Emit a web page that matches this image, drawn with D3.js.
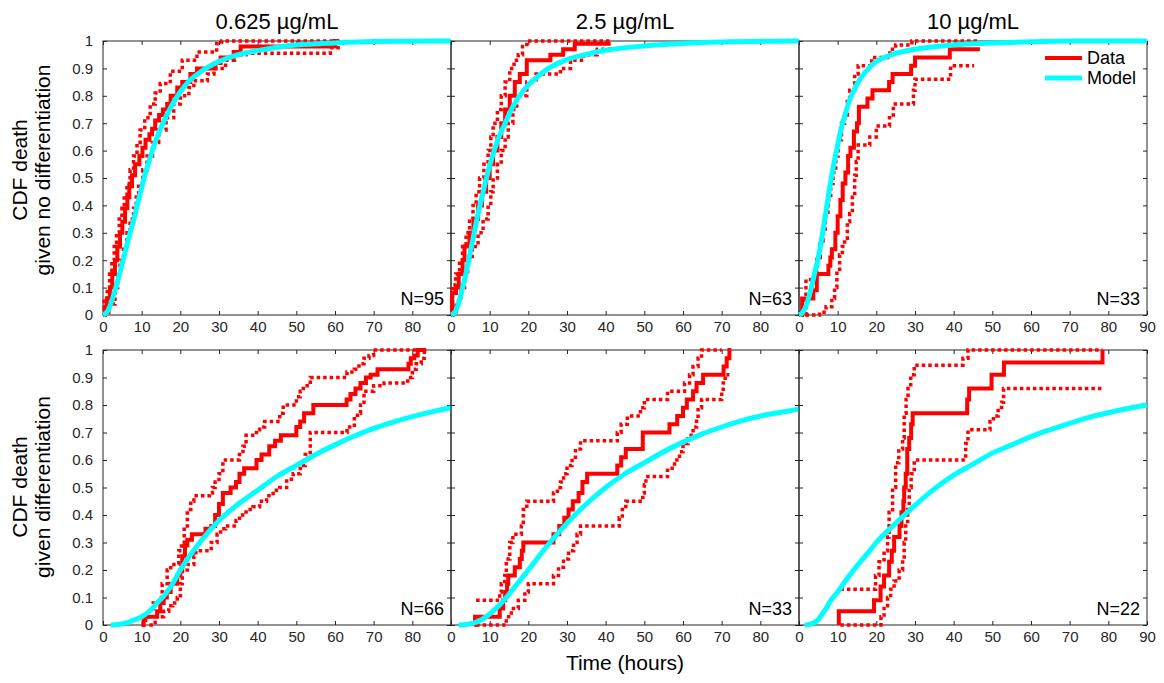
<!DOCTYPE html>
<html>
<head>
<meta charset="utf-8">
<script src="https://cdn.jsdelivr.net/npm/d3@7"></script>
<style>
  body { margin: 0; background: #fff; }
  svg { display: block; font-family: "Liberation Sans", Arial, Helvetica, sans-serif; }
</style>
</head>
<body>
<div id="chart"></div>
<script>
// Labels
const concentrations = ["0.625 \u00b5g/mL", "2.5 \u00b5g/mL", "10 \u00b5g/mL"];
const rowLabels = [["CDF death", "given no differentiation"], ["CDF death", "given differentiation"]];
const sampleSizes = [[95, 63, 33], [66, 33, 22]];
const xTicks = [0, 10, 20, 30, 40, 50, 60, 70, 80, 90];
const yTicks = [0, 0.1, 0.2, 0.3, 0.4, 0.5, 0.6, 0.7, 0.8, 0.9, 1];
const yTickLabels = ["0", "0.1", "0.2", "0.3", "0.4", "0.5", "0.6", "0.7", "0.8", "0.9", "1"];
const legendLabels = ["Data", "Model"];

// Row 1: no differentiation. Steps are [time, cdf after time]
const noDiff0625Data = [[0,0],[0.5,0.03],[1,0.06],[1.8,0.1],[2.4,0.15],[3.1,0.2],[3.7,0.25],[4.4,0.3],[5,0.34],[5.7,0.39],[6.3,0.43],[6.8,0.47],[7.5,0.51],[8.3,0.55],[9.4,0.58],[10.2,0.61],[11,0.64],[12,0.66],[12.7,0.68],[13.5,0.71],[14.5,0.73],[15.5,0.75],[16.6,0.77],[17.5,0.8],[19.2,0.83],[20.5,0.85],[22.6,0.88],[24.3,0.9],[29.1,0.92],[30.4,0.94],[33.8,0.96],[35.6,0.98],[60,1],[61,1]];
const noDiff0625Upper = [[0,0],[0.3,0.05],[1.1,0.1],[1.7,0.15],[2.3,0.2],[2.9,0.25],[3.5,0.3],[4.2,0.35],[4.9,0.39],[5.5,0.44],[6.2,0.48],[7,0.53],[7.9,0.58],[8.8,0.63],[9.6,0.675],[10.8,0.72],[12.2,0.77],[13.5,0.81],[14.8,0.845],[17.4,0.89],[20.5,0.93],[24.3,0.96],[29.4,0.99],[30.7,1],[62,1]];
const noDiff0625Lower = [[0,0],[1.5,0.04],[3.1,0.1],[3.8,0.15],[4.4,0.2],[5.3,0.25],[6.2,0.3],[7,0.35],[7.9,0.39],[8.6,0.44],[9.2,0.48],[10.3,0.53],[11.4,0.58],[12.8,0.63],[14.4,0.675],[16.3,0.72],[18.3,0.77],[20,0.8],[22.2,0.83],[23.5,0.855],[27,0.88],[28.7,0.9],[31.7,0.93],[34,0.95],[37,0.955],[58.8,0.975],[62,0.975]];
const noDiff0625Model = [[0,0],[1,0.01],[2,0.04],[3,0.085],[4,0.135],[5,0.19],[6,0.245],[7,0.3],[8,0.35],[9,0.41],[10,0.465],[11,0.52],[12,0.565],[13,0.61],[14,0.65],[16,0.715],[18,0.77],[20,0.815],[22,0.85],[25,0.885],[30,0.925],[35,0.95],[40,0.965],[45,0.977],[50,0.985],[60,0.993],[70,0.998],[90,1]];

const noDiff25Data = [[0,0],[0.3,0.08],[1.3,0.1],[2,0.15],[3,0.2],[3.5,0.25],[4.8,0.3],[5.8,0.35],[7,0.4],[8,0.45],[9.1,0.5],[10,0.55],[10.9,0.6],[12,0.65],[13,0.7],[14,0.75],[15.2,0.8],[16.5,0.85],[17.8,0.88],[19.6,0.93],[25.7,0.95],[29,0.97],[32,0.99],[41.3,0.99]];
const noDiff25Upper = [[0,0],[0.4,0.11],[1.2,0.15],[2.2,0.2],[3,0.25],[3.9,0.3],[4.8,0.35],[5.7,0.4],[6.5,0.45],[7.4,0.5],[8.5,0.55],[9.6,0.6],[10.3,0.65],[10.9,0.7],[12,0.75],[13,0.8],[14,0.85],[15.2,0.9],[16.3,0.93],[17.4,0.95],[18.5,0.98],[19.6,1],[41.3,1]];
const noDiff25Lower = [[0,0],[1.3,0.05],[2.6,0.1],[3.5,0.15],[4.3,0.2],[5.5,0.25],[7,0.3],[8.3,0.35],[9.6,0.4],[10.3,0.45],[10.9,0.5],[12,0.55],[13,0.6],[14,0.65],[14.8,0.7],[16,0.75],[17,0.8],[19.6,0.85],[22,0.88],[28.3,0.9],[30.9,0.93],[34.3,0.95],[37.8,0.97],[41.3,0.97]];
const noDiff25Model = [[0,0],[1,0.01],[2,0.045],[3,0.1],[4,0.16],[5,0.23],[6,0.3],[7,0.37],[8,0.43],[9,0.49],[10,0.545],[12,0.635],[14,0.7],[16,0.76],[18,0.805],[20,0.84],[22,0.865],[25,0.898],[30,0.932],[35,0.951],[40,0.966],[50,0.982],[60,0.991],[70,0.996],[90,1]];

const noDiff10Data = [[0,0],[0.8,0.06],[3.7,0.09],[4.6,0.15],[7.6,0.18],[8.1,0.21],[8.5,0.24],[9.4,0.3],[10,0.36],[10.7,0.42],[11.3,0.48],[12,0.52],[12.7,0.58],[13.3,0.61],[14.2,0.67],[15,0.7],[15.5,0.76],[17.7,0.79],[19,0.82],[23.3,0.85],[24.2,0.88],[29,0.91],[30,0.94],[39,0.97],[46.8,0.97]];
const noDiff10Upper = [[0,0],[1.8,0.13],[4,0.15],[4.6,0.21],[5.5,0.27],[6.2,0.3],[6.8,0.36],[7.5,0.42],[8.2,0.48],[8.8,0.52],[9.5,0.58],[10.1,0.64],[11,0.7],[11.8,0.73],[12.5,0.79],[13.1,0.82],[14.4,0.88],[15.3,0.91],[18.8,0.94],[23.5,0.97],[25,0.985],[29.2,1],[46.2,1]];
const noDiff10Lower = [[0,0],[5.3,0.01],[7,0.03],[8.5,0.06],[9.2,0.1],[9.8,0.16],[10.5,0.22],[11.2,0.25],[11.8,0.28],[12.5,0.34],[13.1,0.37],[13.8,0.43],[14.4,0.51],[14.8,0.56],[15.3,0.62],[18.3,0.65],[20,0.69],[23.4,0.73],[24.4,0.77],[29.6,0.82],[30,0.86],[39.2,0.91],[45.3,0.91]];
const noDiff10Model = [[0,0],[1,0.01],[2,0.04],[3,0.09],[4,0.15],[5,0.21],[6,0.29],[7,0.38],[8,0.47],[9,0.55],[10,0.62],[11,0.685],[12,0.735],[13,0.78],[14,0.815],[16,0.865],[18,0.9],[20,0.925],[24,0.95],[30,0.97],[40,0.986],[50,0.993],[60,0.997],[70,1],[90,1]];

// Row 2: differentiation
const diff0625Data = [[10,0],[10.5,0.03],[14,0.05],[14.8,0.08],[15.7,0.1],[16.5,0.12],[17.5,0.15],[19.2,0.18],[20,0.2],[20.5,0.25],[21.2,0.29],[21.8,0.31],[23,0.33],[26.5,0.35],[28,0.36],[29,0.4],[30,0.44],[31,0.48],[33,0.5],[34.4,0.52],[35.3,0.55],[36.5,0.57],[39.7,0.6],[41,0.62],[43,0.65],[44.5,0.67],[46,0.69],[50,0.72],[51,0.74],[52,0.77],[54.4,0.8],[63,0.82],[64,0.84],[65.3,0.86],[66.6,0.88],[68,0.9],[69.2,0.91],[71,0.93],[79,0.95],[79.6,0.97],[80.5,0.98],[81.4,1],[83.6,1]];
const diff0625Upper = [[10,0],[11,0.03],[12,0.05],[13,0.08],[14.4,0.1],[15.3,0.15],[16.6,0.2],[17.5,0.22],[19.6,0.27],[20.3,0.3],[21,0.36],[21.8,0.42],[22.7,0.45],[23.5,0.47],[27.5,0.48],[28.3,0.5],[29,0.52],[30,0.55],[31,0.6],[35.3,0.62],[36.2,0.65],[37,0.69],[39.7,0.71],[40.5,0.72],[41.8,0.74],[45.7,0.77],[46.6,0.8],[50,0.83],[51,0.85],[51.8,0.87],[53.6,0.9],[63.1,0.92],[65,0.93],[66.2,0.95],[67.5,0.97],[68.8,0.98],[70,1],[82.7,1]];
const diff0625Lower = [[12,0],[13.5,0.03],[15.7,0.05],[17,0.07],[18,0.08],[19.2,0.1],[20,0.15],[20.5,0.2],[21.8,0.22],[23.5,0.25],[24,0.27],[28,0.3],[29.5,0.33],[30.4,0.35],[31.7,0.36],[34.4,0.38],[35.3,0.4],[37,0.42],[38.8,0.43],[40.5,0.45],[42.3,0.47],[44,0.49],[45.7,0.5],[47.5,0.53],[49.2,0.55],[51,0.58],[52.3,0.62],[53.6,0.7],[63.1,0.72],[65,0.75],[65.8,0.77],[66.6,0.8],[67.5,0.85],[70,0.87],[72.7,0.88],[78.8,0.9],[80,0.93],[81,0.95],[82.3,0.97],[83.1,1],[83.6,1]];
const diff0625Model = [[2,0],[4,0.002],[6,0.008],[8,0.018],[10,0.03],[12,0.05],[14,0.08],[16,0.11],[18,0.15],[20,0.2],[25,0.3],[30,0.38],[35,0.44],[40,0.49],[45,0.54],[50,0.58],[55,0.62],[60,0.655],[65,0.687],[70,0.715],[75,0.738],[80,0.758],[85,0.775],[90,0.79]];

const diff25Data = [[6,0],[6.2,0.03],[12.6,0.06],[13.5,0.09],[14,0.12],[14.5,0.15],[14.8,0.18],[16.5,0.21],[17.8,0.24],[18.3,0.27],[18.7,0.3],[26.5,0.33],[28,0.36],[29.3,0.39],[30.4,0.42],[31.5,0.45],[33,0.48],[34,0.52],[35.2,0.55],[43,0.58],[44,0.61],[45.2,0.64],[49.6,0.7],[56.5,0.73],[58.5,0.76],[60,0.79],[61,0.82],[62.6,0.85],[63.5,0.88],[65.2,0.91],[70.5,0.94],[71.3,0.97],[72,1],[72.5,1]];
const diff25Upper = [[6.5,0.09],[12.6,0.12],[13,0.15],[13.9,0.18],[14.3,0.24],[15.2,0.3],[16,0.33],[18.2,0.36],[18.7,0.42],[19.6,0.45],[26.5,0.48],[27.5,0.5],[28.3,0.52],[29.1,0.55],[30,0.58],[31.3,0.61],[32.2,0.64],[33.5,0.67],[43,0.7],[44,0.73],[45.6,0.76],[49,0.79],[50,0.82],[56,0.85],[60.4,0.88],[61.7,0.91],[62.6,0.94],[63.9,0.97],[64.8,1],[70,1]];
const diff25Lower = [[6.5,0],[14.3,0.03],[15.6,0.06],[17.4,0.09],[19.1,0.12],[20,0.15],[26.5,0.18],[27.8,0.21],[29.1,0.24],[30.4,0.27],[31.7,0.3],[32.6,0.33],[33.5,0.36],[43.5,0.39],[44.3,0.42],[45.2,0.45],[49.6,0.48],[50,0.51],[50.4,0.54],[56,0.57],[57.8,0.6],[59.1,0.63],[60,0.66],[61.3,0.69],[62.6,0.72],[63.5,0.75],[63.9,0.79],[64.8,0.82],[70,0.85],[70.4,0.88],[70.9,0.91],[72,0.91]];
const diff25Model = [[2,0],[4,0.002],[6,0.008],[8,0.02],[10,0.04],[12,0.065],[14,0.095],[16,0.13],[18,0.165],[20,0.2],[25,0.29],[30,0.37],[35,0.44],[40,0.5],[45,0.55],[50,0.59],[55,0.63],[60,0.665],[65,0.695],[70,0.72],[75,0.742],[80,0.76],[85,0.773],[90,0.785]];

const diff10Data = [[10.3,0],[10.3,0.05],[19.4,0.09],[21.1,0.14],[22,0.18],[23.3,0.23],[24,0.27],[24.6,0.32],[26,0.36],[26.5,0.41],[27,0.45],[27.2,0.5],[27.6,0.55],[28,0.64],[28.5,0.68],[29,0.73],[29.4,0.77],[43.5,0.82],[44,0.86],[49.8,0.91],[53,0.955],[78.5,1]];
const diff10Upper = [[10.7,0.13],[19.8,0.18],[20.7,0.23],[22,0.27],[22.9,0.32],[23.3,0.41],[24.2,0.5],[25,0.59],[25.8,0.64],[26.8,0.68],[27.2,0.77],[27.7,0.82],[28.2,0.86],[28.9,0.91],[29.8,0.945],[42.4,0.97],[43.7,1],[78.5,1]];
const diff10Lower = [[10.7,0],[21.2,0.03],[22,0.07],[22.9,0.1],[23.7,0.13],[24.6,0.16],[25.9,0.2],[26.8,0.24],[27.2,0.3],[27.6,0.36],[28.1,0.42],[28.5,0.5],[29,0.55],[29.8,0.6],[43.1,0.66],[43.7,0.71],[49.4,0.74],[50.3,0.76],[51.5,0.78],[52.4,0.81],[52.9,0.86],[78.5,0.86]];
const diff10Model = [[1.5,0],[3,0.003],[5,0.02],[6,0.04],[7,0.06],[8,0.085],[10,0.12],[12,0.16],[15,0.215],[18,0.265],[20,0.3],[25,0.37],[30,0.435],[35,0.495],[40,0.545],[45,0.585],[50,0.625],[55,0.655],[60,0.685],[65,0.71],[70,0.733],[75,0.755],[80,0.772],[85,0.787],[90,0.8]];

const panels = [
  { row: 0, col: 0, data: noDiff0625Data, upper: noDiff0625Upper, lower: noDiff0625Lower, model: noDiff0625Model },
  { row: 0, col: 1, data: noDiff25Data, upper: noDiff25Upper, lower: noDiff25Lower, model: noDiff25Model },
  { row: 0, col: 2, data: noDiff10Data, upper: noDiff10Upper, lower: noDiff10Lower, model: noDiff10Model },
  { row: 1, col: 0, data: diff0625Data, upper: diff0625Upper, lower: diff0625Lower, model: diff0625Model },
  { row: 1, col: 1, data: diff25Data, upper: diff25Upper, lower: diff25Lower, model: diff25Model },
  { row: 1, col: 2, data: diff10Data, upper: diff10Upper, lower: diff10Lower, model: diff10Model }
];

const W = 1164, H = 683;
const colX = [103, 451, 799];
const panelW = 348;
const rowY = [41, 350];
const panelH = [274, 275];
const labelCenterY = [170, 487];
const RED = "#ff0000", CYAN = "#00ffff", AXIS = "#262626";

const svg = d3.select("#chart").append("svg")
  .attr("width", W).attr("height", H)
  .attr("viewBox", `0 0 ${W} ${H}`);

panels.forEach(p => {
  const x = d3.scaleLinear().domain([0, 90]).range([colX[p.col], colX[p.col] + panelW]);
  const y = d3.scaleLinear().domain([0, 1]).range([rowY[p.row] + panelH[p.row], rowY[p.row]]);
  const g = svg.append("g");

  // ticks on all four sides, pointing inward
  const bottom = g.append("g").attr("transform", `translate(0,${y(0)})`)
    .call(d3.axisBottom(x).tickValues(xTicks).tickSizeInner(-4).tickSizeOuter(0).tickPadding(6)
      .tickFormat(d => (p.col < 2 && d === 90) ? "" : d));
  const top = g.append("g").attr("transform", `translate(0,${y(1)})`)
    .call(d3.axisTop(x).tickValues(xTicks).tickSizeInner(-4).tickSizeOuter(0).tickFormat(""));
  const left = g.append("g").attr("transform", `translate(${x(0)},0)`)
    .call(d3.axisLeft(y).tickValues(yTicks).tickSizeInner(-4).tickSizeOuter(0).tickPadding(10)
      .tickFormat((d, i) => p.col === 0 ? yTickLabels[i] : ""));
  const right = g.append("g").attr("transform", `translate(${x(90)},0)`)
    .call(d3.axisRight(y).tickValues(yTicks).tickSizeInner(-4).tickSizeOuter(0).tickFormat(""));
  [bottom, top, left, right].forEach(a => {
    a.select(".domain").remove();
    a.selectAll(".tick line").attr("stroke", AXIS);
    a.selectAll("text").attr("font-size", 15).attr("fill", AXIS)
      .attr("font-family", "'Liberation Sans', Arial, Helvetica, sans-serif");
  });

  g.append("rect")
    .attr("x", x(0)).attr("y", y(1))
    .attr("width", x(90) - x(0)).attr("height", y(0) - y(1))
    .attr("fill", "none").attr("stroke", AXIS).attr("stroke-width", 1);

  const step = d3.line().x(d => x(d[0])).y(d => y(d[1])).curve(d3.curveStepAfter);
  const smooth = d3.line().x(d => x(d[0])).y(d => y(d[1])).curve(d3.curveMonotoneX);

  g.append("path").attr("d", step(p.upper))
    .attr("fill", "none").attr("stroke", RED).attr("stroke-width", 3.5).attr("stroke-dasharray", "3.5,3");
  g.append("path").attr("d", step(p.lower))
    .attr("fill", "none").attr("stroke", RED).attr("stroke-width", 3.5).attr("stroke-dasharray", "3.5,3");
  g.append("path").attr("d", step(p.data))
    .attr("fill", "none").attr("stroke", RED).attr("stroke-width", 4);
  g.append("path").attr("d", smooth(p.model))
    .attr("fill", "none").attr("stroke", CYAN).attr("stroke-width", 5);

  // sample size
  g.append("text")
    .attr("x", x(90) - 7).attr("y", y(0) - 10)
    .attr("text-anchor", "end").attr("font-size", 18).attr("fill", "#000")
    .text("N=" + sampleSizes[p.row][p.col]);

  if (p.row === 0) {
    svg.append("text")
      .attr("x", (x(0) + x(90)) / 2).attr("y", 29)
      .attr("text-anchor", "middle").attr("font-size", 22).attr("fill", "#000")
      .text(concentrations[p.col]);
  }

  if (p.col === 0) {
    const lab = svg.append("text")
      .attr("transform", `translate(27,${labelCenterY[p.row]}) rotate(-90)`)
      .attr("text-anchor", "middle").attr("font-size", 21).attr("fill", "#000");
    lab.append("tspan").attr("x", 0).attr("dy", 0).text(rowLabels[p.row][0]);
    lab.append("tspan").attr("x", 0).attr("dy", 23).text(rowLabels[p.row][1]);
  }

  if (p.row === 0 && p.col === 2) {
    const leg = g.append("g");
    [RED, CYAN].forEach((c, i) => {
      const ly = 58 + i * 20;
      leg.append("line").attr("x1", 1045).attr("x2", 1082).attr("y1", ly).attr("y2", ly)
        .attr("stroke", c).attr("stroke-width", i === 0 ? 4 : 5);
      leg.append("text").attr("x", 1087).attr("y", ly).attr("dy", "0.35em")
        .attr("font-size", 18).attr("fill", "#000").text(legendLabels[i]);
    });
  }
});

svg.append("text")
  .attr("x", (colX[0] + colX[2] + panelW) / 2).attr("y", 670)
  .attr("text-anchor", "middle").attr("font-size", 21).attr("fill", "#000")
  .text("Time (hours)");
</script>
</body>
</html>
